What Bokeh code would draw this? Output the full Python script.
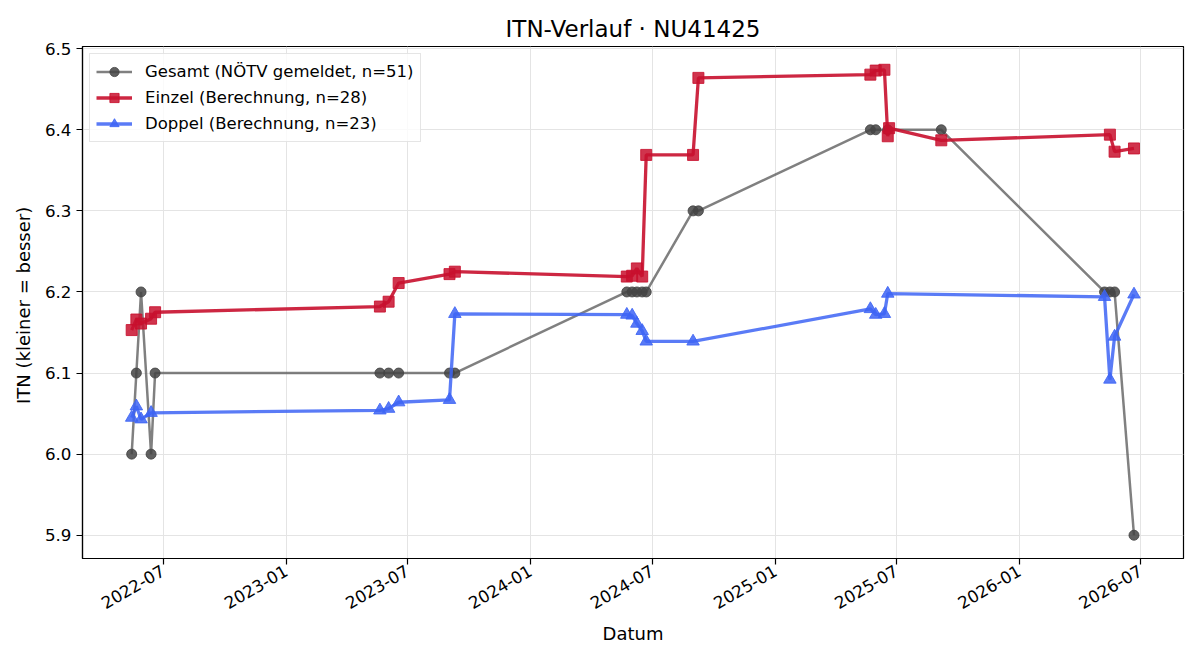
import math
from datetime import datetime
import pandas as pd
from bokeh.plotting import figure
from bokeh.models import (FixedTicker, DatetimeTickFormatter, PrintfTickFormatter,
                          Range1d, Legend, LegendItem)
from bokeh.embed import file_html
from bokeh.resources import INLINE

# ---------------- data ----------------
gesamt_dates = ["2022-05-15", "2022-05-22", "2022-05-29", "2022-06-13", "2022-06-19",
                "2023-05-21", "2023-06-03", "2023-06-18", "2023-09-02", "2023-09-10",
                "2024-05-24", "2024-06-01", "2024-06-08", "2024-06-16", "2024-06-22",
                "2024-08-31", "2024-09-08",
                "2025-05-23", "2025-05-31", "2025-06-18", "2025-09-06",
                "2026-05-08", "2026-05-16", "2026-05-23", "2026-06-21"]
gesamt_itn = [6.0, 6.1, 6.2, 6.0, 6.1,
              6.1, 6.1, 6.1, 6.1, 6.1,
              6.2, 6.2, 6.2, 6.2, 6.2,
              6.3, 6.3,
              6.4, 6.4, 6.4, 6.4,
              6.2, 6.2, 6.2, 5.9]

einzel_dates = ["2022-05-15", "2022-05-22", "2022-05-29", "2022-06-13", "2022-06-19",
                "2023-05-21", "2023-06-03", "2023-06-18", "2023-09-02", "2023-09-10",
                "2024-05-24", "2024-06-01", "2024-06-08", "2024-06-16", "2024-06-22",
                "2024-08-31", "2024-09-08",
                "2025-05-23", "2025-05-31", "2025-06-13", "2025-06-18", "2025-06-20",
                "2025-09-06",
                "2026-05-16", "2026-05-23", "2026-06-21"]
einzel_itn = [6.153, 6.166, 6.161, 6.167, 6.175,
              6.182, 6.188, 6.211, 6.222, 6.225,
              6.219, 6.220, 6.229, 6.219, 6.369,
              6.369, 6.464,
              6.468, 6.473, 6.474, 6.392, 6.402,
              6.387,
              6.394, 6.373, 6.377]

doppel_dates = ["2022-05-15", "2022-05-22", "2022-05-29", "2022-06-13",
                "2023-05-21", "2023-06-03", "2023-06-18", "2023-09-02", "2023-09-10",
                "2024-05-24", "2024-06-01", "2024-06-08", "2024-06-16", "2024-06-22",
                "2024-08-31",
                "2025-05-23", "2025-05-31", "2025-06-13", "2025-06-18",
                "2026-05-08", "2026-05-16", "2026-05-23", "2026-06-21"]
doppel_itn = [6.045, 6.059, 6.043, 6.051,
              6.054, 6.056, 6.064, 6.067, 6.173,
              6.172, 6.171, 6.161, 6.152, 6.139,
              6.139,
              6.179, 6.172, 6.173, 6.198,
              6.194, 6.092, 6.145, 6.197]

x_tick_dates = ["2022-07-01", "2023-01-01", "2023-07-01", "2024-01-01", "2024-07-01",
                "2025-01-01", "2025-07-01", "2026-01-01", "2026-07-01"]
y_ticks = [5.9, 6.0, 6.1, 6.2, 6.3, 6.4, 6.5]

labels = ["Gesamt (NÖTV gemeldet, n=51)",
          "Einzel (Berechnung, n=28)",
          "Doppel (Berechnung, n=23)"]

FONT = "DejaVu Sans"


def to_dt(lst):
    return [pd.Timestamp(d).to_pydatetime() for d in lst]


def to_ms(lst):
    return [pd.Timestamp(d).timestamp() * 1000.0 for d in lst]


p = figure(width=1200, height=660, x_axis_type="datetime",
           output_backend="svg", toolbar_location=None,
           min_border_left=82, min_border_right=17,
           min_border_top=46, min_border_bottom=102,
           x_range=Range1d(datetime(2022, 3, 2, 12), datetime(2026, 9, 3)),
           y_range=Range1d(5.8713, 6.5027))

p.title.text = "ITN-Verlauf · NU41425"
p.title.text_font = FONT
p.title.text_font_size = "23px"
p.title.text_font_style = "normal"
p.title.align = "center"
p.title.text_color = "black"

p.outline_line_color = "black"
p.outline_line_width = 1.2
p.outline_line_alpha = 1.0

for ax in (p.xaxis[0], p.yaxis[0]):
    ax.axis_line_color = "black"
    ax.axis_line_width = 1.2
    ax.major_tick_line_color = "black"
    ax.major_tick_line_width = 1.2
    ax.major_tick_out = 6
    ax.major_tick_in = 0
    ax.minor_tick_line_color = None
    ax.major_label_text_font = FONT
    ax.major_label_text_font_size = "16.7px"
    ax.major_label_text_color = "black"
    ax.axis_label_text_font = FONT
    ax.axis_label_text_font_size = "18px"
    ax.axis_label_text_font_style = "normal"
    ax.axis_label_text_color = "black"

p.xaxis.ticker = FixedTicker(ticks=to_ms(x_tick_dates))
fmt = "%Y-%m"
p.xaxis.formatter = DatetimeTickFormatter(
    milliseconds=fmt, seconds=fmt, minsec=fmt, minutes=fmt, hourmin=fmt,
    hours=fmt, days=fmt, months=fmt, years=fmt)
p.xaxis.major_label_orientation = math.pi / 6
p.xaxis.axis_label = "Datum"
p.xaxis.axis_label_standoff = 5

p.yaxis.ticker = FixedTicker(ticks=y_ticks)
p.yaxis.formatter = PrintfTickFormatter(format="%.1f")
p.yaxis.axis_label = "ITN  (kleiner = besser)"
p.yaxis.axis_label_standoff = 8

p.xgrid.grid_line_color = "#e4e4e4"
p.ygrid.grid_line_color = "#e4e4e4"
p.xgrid.grid_line_width = 1
p.ygrid.grid_line_width = 1

# series
gx = to_dt(gesamt_dates)
ex = to_dt(einzel_dates)
dx = to_dt(doppel_dates)

g_line = p.line(gx, gesamt_itn, line_color="#555555", line_alpha=0.75, line_width=2.5)
g_pts = p.scatter(gx, gesamt_itn, marker="circle", size=10,
                  fill_color="#444444", fill_alpha=0.85,
                  line_color="#444444", line_alpha=0.85)

e_line = p.line(ex, einzel_itn, line_color="#c8102e", line_alpha=0.9, line_width=3.3)
e_pts = p.scatter(ex, einzel_itn, marker="square", size=11,
                  fill_color="#c8102e", fill_alpha=0.85,
                  line_color="#c8102e", line_alpha=0.85)

d_line = p.line(dx, doppel_itn, line_color="#3d64f5", line_alpha=0.85, line_width=3.3)
d_pts = p.scatter(dx, doppel_itn, marker="triangle", size=12.5,
                  fill_color="#3d64f5", fill_alpha=0.85,
                  line_color="#3d64f5", line_alpha=0.85)

legend = Legend(items=[
    LegendItem(label=labels[0], renderers=[g_line, g_pts]),
    LegendItem(label=labels[1], renderers=[e_line, e_pts]),
    LegendItem(label=labels[2], renderers=[d_line, d_pts]),
], location="top_left")
legend.label_text_font = FONT
legend.label_text_font_size = "16.5px"
legend.label_text_color = "black"
legend.border_line_color = "#cccccc"
legend.border_line_width = 1
legend.background_fill_alpha = 0.8
legend.padding = 6
legend.spacing = 3
legend.margin = 7
legend.label_height = 23
legend.glyph_height = 23
legend.glyph_width = 36
legend.label_standoff = 13
p.add_layout(legend)

open("out.html", "w").write(file_html(p, INLINE))
